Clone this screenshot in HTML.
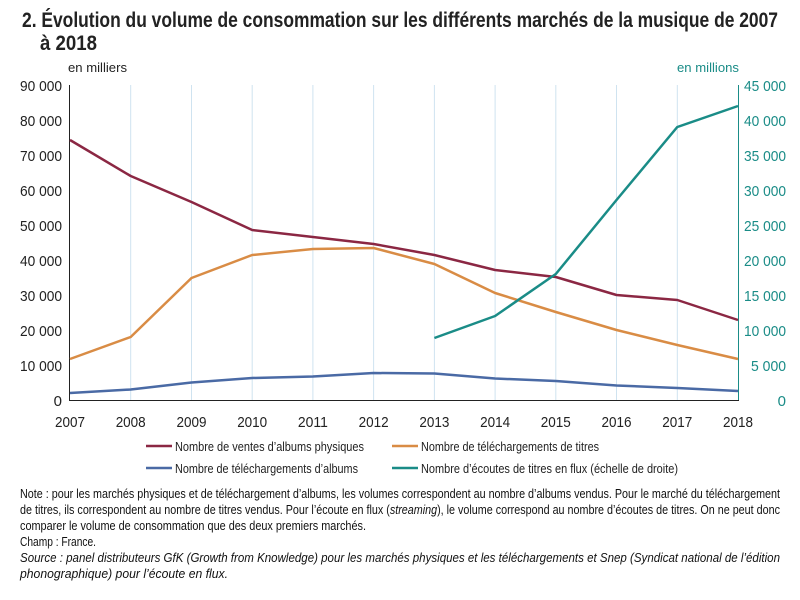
<!DOCTYPE html><html><head><meta charset="utf-8"><style>
body{margin:0;background:#fff;width:800px;height:600px;overflow:hidden}
svg text{font-family:"Liberation Sans",sans-serif}
</style></head><body>
<svg width="800" height="600" style="position:absolute;left:0;top:0">
<text x="22" y="27" font-size="21" font-weight="bold" fill="#222" textLength="756" lengthAdjust="spacingAndGlyphs">2. Évolution du volume de consommation sur les différents marchés de la musique de 2007</text>
<text x="40" y="50" font-size="21" font-weight="bold" fill="#222" textLength="57" lengthAdjust="spacingAndGlyphs">à 2018</text>
<text x="68" y="72" font-size="13" fill="#222" textLength="59" lengthAdjust="spacingAndGlyphs">en milliers</text>
<text x="677" y="72" font-size="13" fill="#1a8c87" textLength="62" lengthAdjust="spacingAndGlyphs">en millions</text>
<g stroke="#cfe3f0" stroke-width="1">
<line x1="130.7" y1="85" x2="130.7" y2="400"/><line x1="191.5" y1="85" x2="191.5" y2="400"/><line x1="252.2" y1="85" x2="252.2" y2="400"/><line x1="312.9" y1="85" x2="312.9" y2="400"/><line x1="373.6" y1="85" x2="373.6" y2="400"/><line x1="434.4" y1="85" x2="434.4" y2="400"/><line x1="495.1" y1="85" x2="495.1" y2="400"/><line x1="555.8" y1="85" x2="555.8" y2="400"/><line x1="616.5" y1="85" x2="616.5" y2="400"/><line x1="677.3" y1="85" x2="677.3" y2="400"/>
</g>
<line x1="69.5" y1="85" x2="69.5" y2="401" stroke="#222"/>
<line x1="738.5" y1="85" x2="738.5" y2="401" stroke="#1a8c87"/>
<line x1="69" y1="400.5" x2="739" y2="400.5" stroke="#222"/>
<g font-size="15" fill="#222" text-anchor="end">
<text x="62" y="91" textLength="42" lengthAdjust="spacingAndGlyphs">90 000</text><text x="62" y="126" textLength="42" lengthAdjust="spacingAndGlyphs">80 000</text><text x="62" y="161" textLength="42" lengthAdjust="spacingAndGlyphs">70 000</text><text x="62" y="196" textLength="42" lengthAdjust="spacingAndGlyphs">60 000</text><text x="62" y="231" textLength="42" lengthAdjust="spacingAndGlyphs">50 000</text><text x="62" y="266" textLength="42" lengthAdjust="spacingAndGlyphs">40 000</text><text x="62" y="301" textLength="42" lengthAdjust="spacingAndGlyphs">30 000</text><text x="62" y="336" textLength="42" lengthAdjust="spacingAndGlyphs">20 000</text><text x="62" y="371" textLength="42" lengthAdjust="spacingAndGlyphs">10 000</text><text x="62" y="406">0</text>
</g>
<g font-size="15" fill="#1a8c87" text-anchor="end">
<text x="786" y="91" textLength="42" lengthAdjust="spacingAndGlyphs">45 000</text><text x="786" y="126" textLength="42" lengthAdjust="spacingAndGlyphs">40 000</text><text x="786" y="161" textLength="42" lengthAdjust="spacingAndGlyphs">35 000</text><text x="786" y="196" textLength="42" lengthAdjust="spacingAndGlyphs">30 000</text><text x="786" y="231" textLength="42" lengthAdjust="spacingAndGlyphs">25 000</text><text x="786" y="266" textLength="42" lengthAdjust="spacingAndGlyphs">20 000</text><text x="786" y="301" textLength="42" lengthAdjust="spacingAndGlyphs">15 000</text><text x="786" y="336" textLength="42" lengthAdjust="spacingAndGlyphs">10 000</text><text x="786" y="371" textLength="35" lengthAdjust="spacingAndGlyphs">5 000</text><text x="786" y="406">0</text>
</g>
<g font-size="15" fill="#222" text-anchor="middle">
<text x="70" y="427" textLength="30" lengthAdjust="spacingAndGlyphs">2007</text><text x="130.7" y="427" textLength="30" lengthAdjust="spacingAndGlyphs">2008</text><text x="191.5" y="427" textLength="30" lengthAdjust="spacingAndGlyphs">2009</text><text x="252.2" y="427" textLength="30" lengthAdjust="spacingAndGlyphs">2010</text><text x="312.9" y="427" textLength="30" lengthAdjust="spacingAndGlyphs">2011</text><text x="373.6" y="427" textLength="30" lengthAdjust="spacingAndGlyphs">2012</text><text x="434.4" y="427" textLength="30" lengthAdjust="spacingAndGlyphs">2013</text><text x="495.1" y="427" textLength="30" lengthAdjust="spacingAndGlyphs">2014</text><text x="555.8" y="427" textLength="30" lengthAdjust="spacingAndGlyphs">2015</text><text x="616.5" y="427" textLength="30" lengthAdjust="spacingAndGlyphs">2016</text><text x="677.3" y="427" textLength="30" lengthAdjust="spacingAndGlyphs">2017</text><text x="738" y="427" textLength="30" lengthAdjust="spacingAndGlyphs">2018</text>
</g>
<g fill="none" stroke-width="2.5" stroke-linejoin="round">
<polyline stroke="#8b2743" points="70,140 130.7,176 191.5,202 252.2,230 312.9,237 373.6,244 434.4,255 495.1,270 555.8,277 616.5,295 677.3,300 738,320"/>
<polyline stroke="#d98c45" points="70,359 130.7,337 191.5,278 252.2,255 312.9,249 373.6,248 434.4,264 495.1,293 555.8,312 616.5,330 677.3,345 738,359"/>
<polyline stroke="#4a6aa5" points="70,393 130.7,389.5 191.5,382.5 252.2,378 312.9,376.5 373.6,373 434.4,373.5 495.1,378.5 555.8,381 616.5,385.5 677.3,388 738,391"/>
<polyline stroke="#1a8c87" points="434.4,338 495.1,316 555.8,274 616.5,200 677.3,127 738,106"/>
</g>
<g stroke-width="2.5">
<line x1="146" y1="446" x2="172" y2="446" stroke="#8b2743"/>
<line x1="392" y1="446" x2="418" y2="446" stroke="#d98c45"/>
<line x1="146" y1="468" x2="172" y2="468" stroke="#4a6aa5"/>
<line x1="392" y1="468" x2="418" y2="468" stroke="#1a8c87"/>
</g>
<g font-size="13" fill="#222">
<text x="175" y="451" textLength="189" lengthAdjust="spacingAndGlyphs">Nombre de ventes d’albums physiques</text>
<text x="421" y="451" textLength="178" lengthAdjust="spacingAndGlyphs">Nombre de téléchargements de titres</text>
<text x="175" y="473" textLength="183" lengthAdjust="spacingAndGlyphs">Nombre de téléchargements d’albums</text>
<text x="421" y="473" textLength="257" lengthAdjust="spacingAndGlyphs">Nombre d’écoutes de titres en flux (échelle de droite)</text>
</g>
<g font-size="13" fill="#111">
<text x="20" y="498" textLength="760" lengthAdjust="spacingAndGlyphs">Note : pour les marchés physiques et de téléchargement d’albums, les volumes correspondent au nombre d’albums vendus. Pour le marché du téléchargement</text>
<text x="20" y="514" textLength="760" lengthAdjust="spacingAndGlyphs">de titres, ils correspondent au nombre de titres vendus. Pour l’écoute en flux (<tspan font-style="italic">streaming</tspan>), le volume correspond au nombre d’écoutes de titres. On ne peut donc</text>
<text x="20" y="530" textLength="346" lengthAdjust="spacingAndGlyphs">comparer le volume de consommation que des deux premiers marchés.</text>
<text x="20" y="546" textLength="76" lengthAdjust="spacingAndGlyphs">Champ : France.</text>
<text x="20" y="562" font-style="italic" textLength="760" lengthAdjust="spacingAndGlyphs">Source : panel distributeurs GfK (Growth from Knowledge) pour les marchés physiques et les téléchargements et Snep (Syndicat national de l’édition</text>
<text x="20" y="578" font-style="italic" textLength="208" lengthAdjust="spacingAndGlyphs">phonographique) pour l’écoute en flux.</text>
</g>
</svg>
</body></html>
